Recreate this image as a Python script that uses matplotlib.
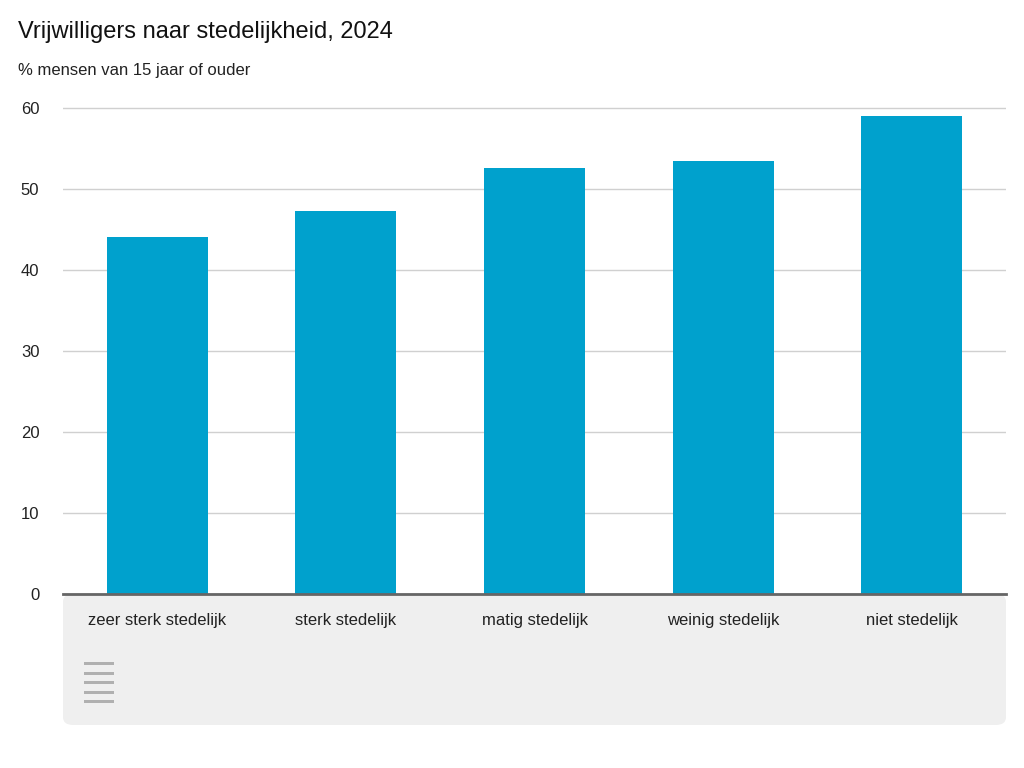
import matplotlib.pyplot as plt
from matplotlib.patches import FancyBboxPatch, Rectangle

categories = ["zeer sterk stedelijk", "sterk stedelijk", "matig stedelijk", "weinig stedelijk", "niet stedelijk"]
values = [44.1, 47.3, 52.6, 53.5, 59.0]
yticks = [0, 10, 20, 30, 40, 50, 60]

fig = plt.figure(figsize=(10.24, 7.68), dpi=100)
fig.patch.set_facecolor("white")
font = "Liberation Sans"

panel = FancyBboxPatch((63/1024, (768-725)/768), (1006-63)/1024, (725-594)/768,
                       boxstyle="round,pad=0,rounding_size=0.01", transform=fig.transFigure,
                       facecolor="#efefef", edgecolor="none", zorder=-5)
fig.patches.append(panel)

ax = fig.add_axes([63/1024, 174/768, 943/1024, (594-100)/768])
ax.set_zorder(2)
ax.set_facecolor("none")
x = list(range(len(categories)))
ax.bar(x, values, width=0.535, color="#00a1cd", zorder=3)
ax.set_xlim(-0.5, len(categories) - 0.5)
ax.set_ylim(0, 61)
ax.set_yticks(yticks)
ax.set_yticklabels([str(t) for t in yticks], fontsize=12, fontfamily=font, color="#222222")
ax.set_xticks(x)
ax.set_xticklabels(categories, fontsize=12, fontfamily=font, color="#222222")
ax.tick_params(axis="both", length=0)
ax.tick_params(axis="y", pad=17)
ax.tick_params(axis="x", pad=14)
ax.grid(axis="y", color="#d0d0d0", linewidth=1, zorder=0)
for s in ["top", "right", "left"]:
    ax.spines[s].set_visible(False)
ax.spines["bottom"].set_color("#666666")
ax.spines["bottom"].set_linewidth(2)
ax.spines["bottom"].set_zorder(4)

fig.text(18/1024, 1 - 32/768, "Vrijwilligers naar stedelijkheid, 2024", fontsize=17,
         fontfamily=font, va="center", ha="left", color="#111111")
fig.text(18/1024, 1 - 71/768, "% mensen van 15 jaar of ouder", fontsize=12,
         fontfamily=font, va="center", ha="left", color="#222222")

# simple cbs logo
lx, ly, lw = 84/1024, 1 - 703/768, 30/1024
for i in range(5):
    fig.patches.append(Rectangle((lx, ly + i * 9.5/768), lw, 3/768, transform=fig.transFigure,
                                 facecolor="#b0b0b0", edgecolor="none", zorder=-1))

fig.savefig("out.png", dpi=100)
